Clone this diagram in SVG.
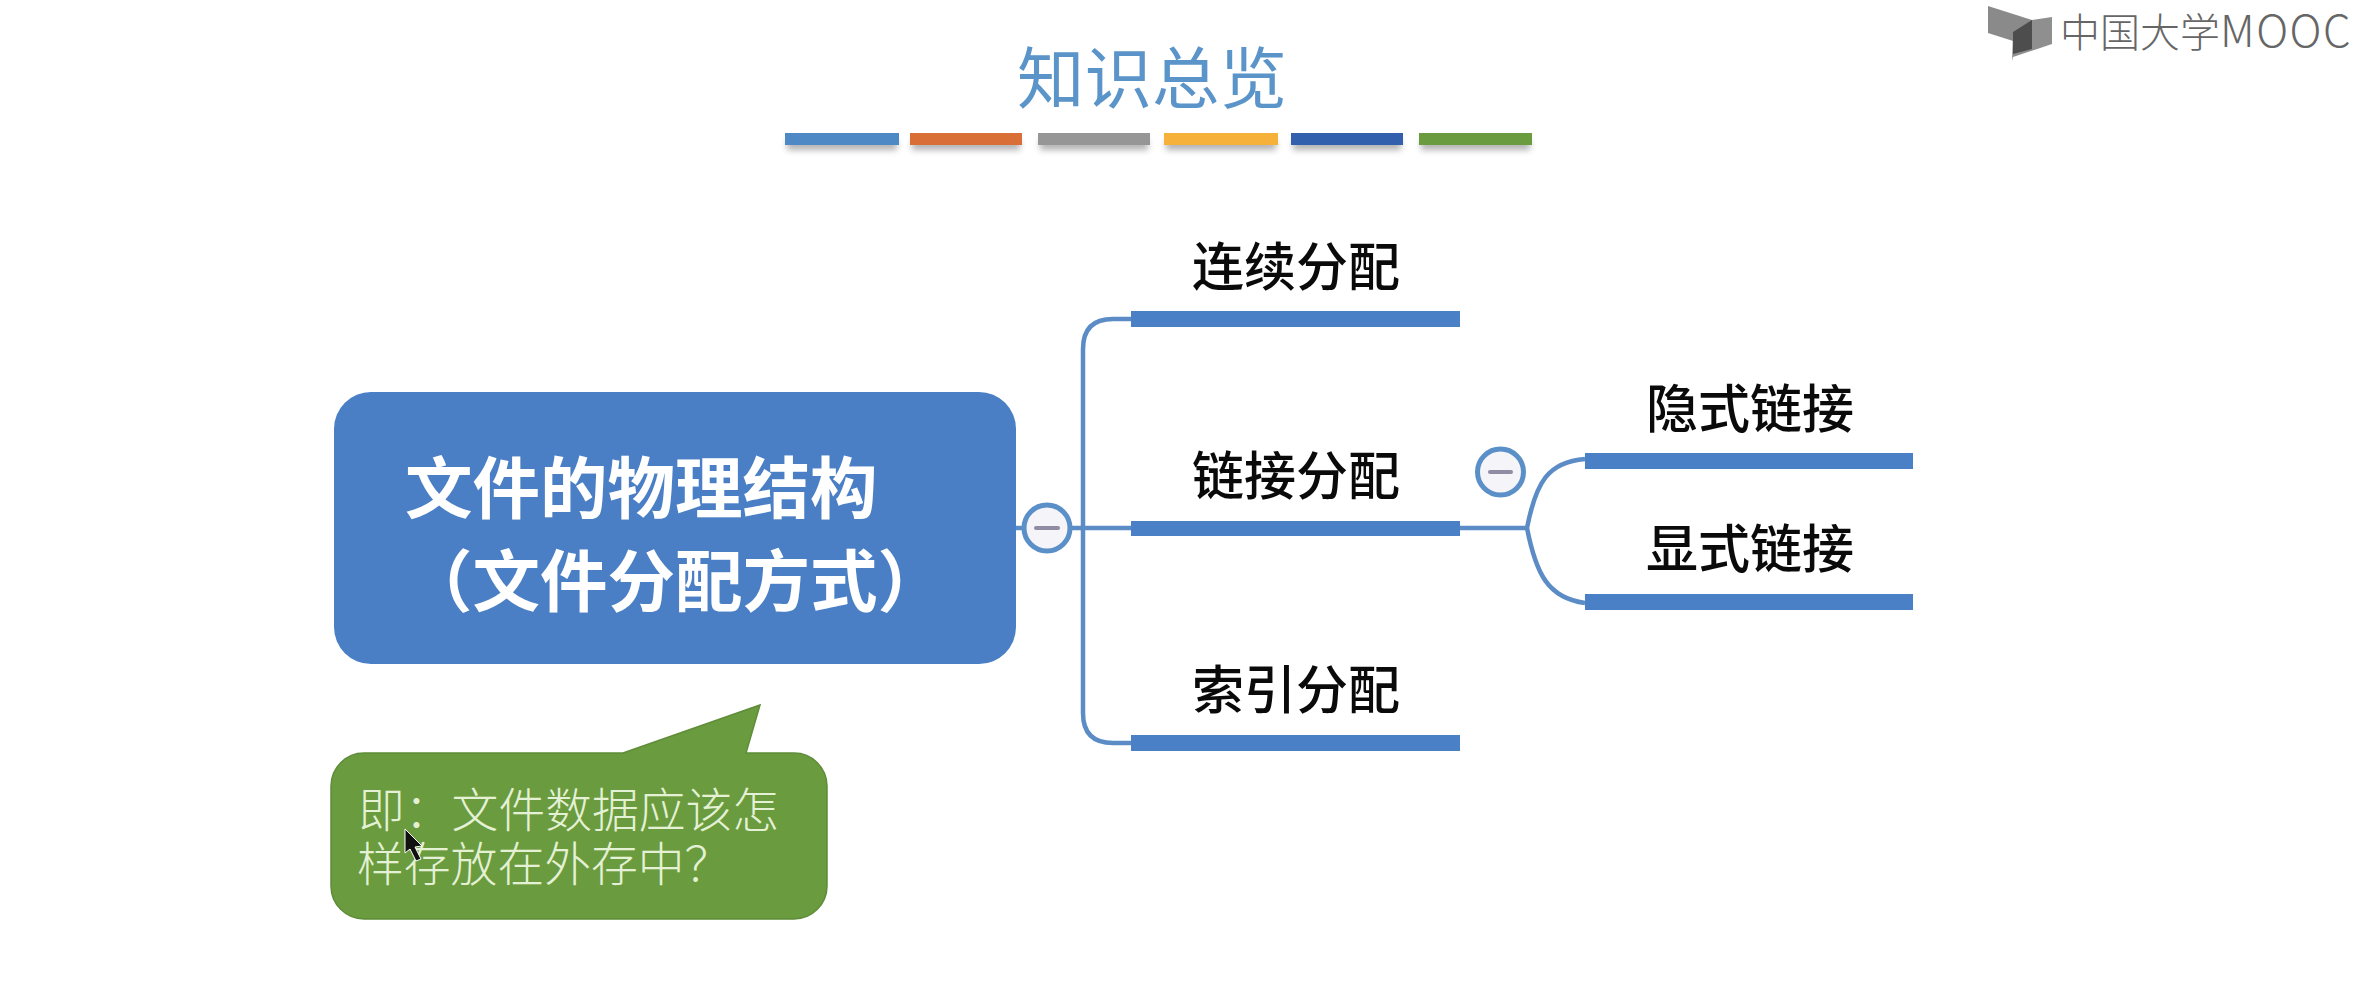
<svg xmlns="http://www.w3.org/2000/svg" width="2374" height="1008" viewBox="0 0 2374 1008">
<defs>
<filter id="soft" x="-10%" y="-60%" width="120%" height="260%"><feGaussianBlur stdDeviation="3"/></filter>
<style>
text{font-family:"Noto Sans CJK SC","Noto Sans",sans-serif}
.bar{fill:#4a80c5}
.conn{fill:none;stroke:#5b8cc6;stroke-width:4.5}
.lbl{font-size:52px;font-weight:500;fill:#0a0a0a}
.root{font-size:67.5px;font-weight:700;fill:#fff}
.note{font-size:46.8px;font-weight:300;fill:#e4f1d4}
.ring{fill:#f4f4f9;stroke:#5a8fc8;stroke-width:5}
.minus{stroke:#8f8ca3;stroke-width:4;stroke-linecap:round}
.shadow{fill:#555;opacity:.45;filter:url(#soft)}
</style>
</defs>
<rect width="2374" height="1008" fill="#fff"/>
<g id="title">
<text x="1017" y="102.500" font-size="67.5" fill="#5b94c8">知识总览</text>
<g class="shadows">
<rect class="shadow" x="787" y="140" width="110" height="10"/><rect class="shadow" x="912" y="140" width="108" height="10"/><rect class="shadow" x="1040" y="140" width="108" height="10"/><rect class="shadow" x="1166" y="140" width="110" height="10"/><rect class="shadow" x="1293" y="140" width="108" height="10"/><rect class="shadow" x="1421" y="140" width="109" height="10"/>
</g>
<rect x="785" y="133" width="114" height="12" fill="#4f89c5"/>
<rect x="910" y="133" width="112" height="12" fill="#d96f37"/>
<rect x="1038" y="133" width="112" height="12" fill="#969696"/>
<rect x="1164" y="133" width="114" height="12" fill="#f5b13a"/>
<rect x="1291" y="133" width="112" height="12" fill="#3360ad"/>
<rect x="1419" y="133" width="113" height="12" fill="#6a9b3e"/>
</g>
<g id="logo">
<polygon points="1988,6 2032,20 2032,47 1988,33" fill="#8a8a8a"/>
<polygon points="2032,20 2052,17 2052,44 2013,57 2012,61 2013,32" fill="#8f8f8f"/>
<polygon points="2013,32 2032,20 2032,49 2013,54" fill="#4d4d4d"/>
<text x="2060" y="47" font-weight="300" fill="#666"><tspan font-size="40">中国大学</tspan><tspan font-size="44" letter-spacing="1.500">MOOC</tspan></text>
</g>
<g id="connectors">
<path class="conn" d="M1016 528H1131"/>
<path class="conn" d="M1131 319H1113Q1083 319 1083 349V713Q1083 743 1113 743H1131"/>
<path class="conn" d="M1460 528H1527"/>
<path class="conn" d="M1585 459C1548 462 1536 482 1527 528C1536 574 1548 598 1585 603"/>
</g>
<g id="root"><rect x="334" y="392" width="682" height="272" rx="37" fill="#4a7fc5"/>
<text class="root" x="405" y="513">文件的物理结构</text>
<text class="root" x="405" y="606">（文件分配方式）</text></g>
<g id="toggle1"><circle class="ring" cx="1047" cy="528" r="23"/><path class="minus" d="M1036 528H1058"/></g>
<g id="toggle2"><circle class="ring" cx="1500.500" cy="472" r="23"/><path class="minus" d="M1490 472H1511"/></g>
<g id="n1"><text class="lbl" x="1192" y="285.500">连续分配</text><rect class="bar" x="1131" y="311" width="329" height="16"/></g>
<g id="n2"><text class="lbl" x="1192" y="494.500">链接分配</text><rect class="bar" x="1131" y="521" width="329" height="15"/></g>
<g id="n3"><text class="lbl" x="1192" y="708.500">索引分配</text><rect class="bar" x="1131" y="735" width="329" height="16"/></g>
<g id="n4"><text class="lbl" x="1646" y="427.500">隐式链接</text><rect class="bar" x="1585" y="453" width="328" height="16"/></g>
<g id="n5"><text class="lbl" x="1646" y="567.500">显式链接</text><rect class="bar" x="1585" y="594" width="328" height="16"/></g>
<g id="note">
<path d="M364 753H623L760 705L746 753H794A33 33 0 0 1 827 786V886A33 33 0 0 1 794 919H364A33 33 0 0 1 331 886V786A33 33 0 0 1 364 753Z" fill="#6a9b3f" stroke="#5f8c39" stroke-width="1.500"/>
<text class="note"><tspan x="358" y="827">即：文件数据应该怎</tspan><tspan x="357" y="881">样存放在外存中？</tspan></text>
</g>
<polygon id="cursor" points="405,829 405,853 410,849 416,861 421,859 415,847 422,846" fill="#111" stroke="#fff" stroke-width="1"/>
</svg>
